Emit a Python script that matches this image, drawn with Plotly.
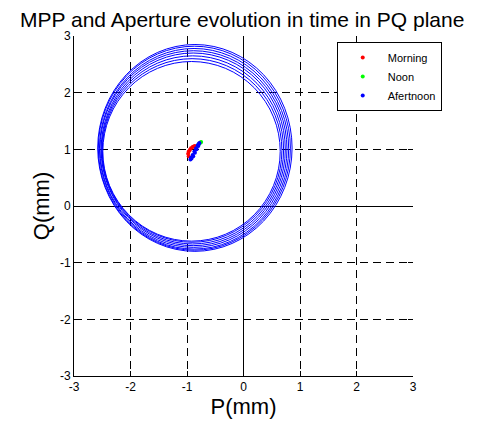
import plotly.graph_objects as go

# Aperture loops (bounding boxes in mm)
loop_left = [-2.58, -2.57, -2.55, -2.54, -2.52, -2.51, -2.50, -2.49]
loop_right = [0.86, 0.83, 0.80, 0.77, 0.74, 0.71, 0.68, 0.65]
loop_bottom = [-0.80, -0.78, -0.76, -0.73, -0.70, -0.67, -0.64, -0.62]
loop_top = [2.85, 2.82, 2.78, 2.74, 2.70, 2.65, 2.60, 2.55]

# MPP points
morning_p = [-0.97, -0.98, -0.97, -0.95, -0.93, -0.90, -0.88, -0.86]
morning_q = [0.88, 0.92, 0.96, 0.99, 1.02, 1.04, 1.05, 1.06]
noon_p = [-0.80, -0.78, -0.76, -0.75]
noon_q = [1.08, 1.10, 1.12, 1.13]
after_p = [-0.78, -0.80, -0.83, -0.86, -0.89, -0.92, -0.94, -0.93, -0.90, -0.87, -0.84, -0.81, -0.79]
after_q = [1.11, 1.06, 1.00, 0.94, 0.88, 0.84, 0.82, 0.85, 0.90, 0.96, 1.02, 1.07, 1.10]

ticks = [-3, -2, -1, 0, 1, 2, 3]
tick_text = ["-3", "-2", "-1", "0", "1", "2", "3"]

FONT = "Liberation Sans, Arial, sans-serif"

fig = go.Figure()
for name, xs, ys, col in [("Morning", morning_p, morning_q, "#ff0000"),
                          ("Noon", noon_p, noon_q, "#00ff00"),
                          ("Afertnoon", after_p, after_q, "#0000ff")]:
    fig.add_trace(go.Scatter(x=xs, y=ys, mode="markers", name=name,
                             marker=dict(color=col, size=4)))

# invisible trace for mirrored tick axes
fig.add_trace(go.Scatter(x=[0], y=[0], xaxis="x2", yaxis="y2", mode="markers",
                         marker=dict(opacity=0), showlegend=False, hoverinfo="skip"))

for l, r, b, t in zip(loop_left, loop_right, loop_bottom, loop_top):
    fig.add_shape(type="circle", xref="x", yref="y", x0=l, x1=r, y0=b, y1=t,
                  line=dict(color="#0000ff", width=1), layer="above")

axis_common = dict(range=[-3, 3], tickvals=ticks, ticktext=tick_text,
                   ticks="inside", ticklen=5, tickcolor="black",
                   showgrid=True, gridcolor="black", gridwidth=1, griddash="8px,5px",
                   zeroline=True, zerolinecolor="black", zerolinewidth=1,
                   showline=True, linecolor="black", linewidth=1,
                   tickfont=dict(family=FONT, size=12, color="black"))

fig.update_layout(
    width=478, height=424,
    margin=dict(l=66, r=73, t=28, b=56, autoexpand=False),
    paper_bgcolor="white", plot_bgcolor="white",
    title=dict(text="MPP and Aperture evolution in time in PQ plane",
               font=dict(family=FONT, size=21, color="black"),
               xref="container", yref="container",
               x=0.49, xanchor="center", y=0.972, yanchor="middle"),
    xaxis=dict(axis_common, title=dict(text="P(mm)", font=dict(family=FONT, size=22, color="black"), standoff=3)),
    yaxis=dict(axis_common, title=dict(text="Q(mm)", font=dict(family=FONT, size=22, color="black"), standoff=4)),
    xaxis2=dict(range=[-3, 3], tickvals=ticks, overlaying="x", side="top", ticks="inside",
                ticklen=5, tickcolor="black", showticklabels=False, showgrid=False,
                zeroline=False, showline=False),
    yaxis2=dict(range=[-3, 3], tickvals=ticks, overlaying="y", side="right", ticks="inside",
                ticklen=5, tickcolor="black", showticklabels=False, showgrid=False,
                zeroline=False, showline=False),
    legend=dict(x=0.775, y=0.982, xanchor="left", yanchor="top",
                bgcolor="white", bordercolor="black", borderwidth=1,
                font=dict(family=FONT, size=11, color="black"),
                itemwidth=40, tracegroupgap=0),
    showlegend=True,
)

fig.write_html("out.html")
